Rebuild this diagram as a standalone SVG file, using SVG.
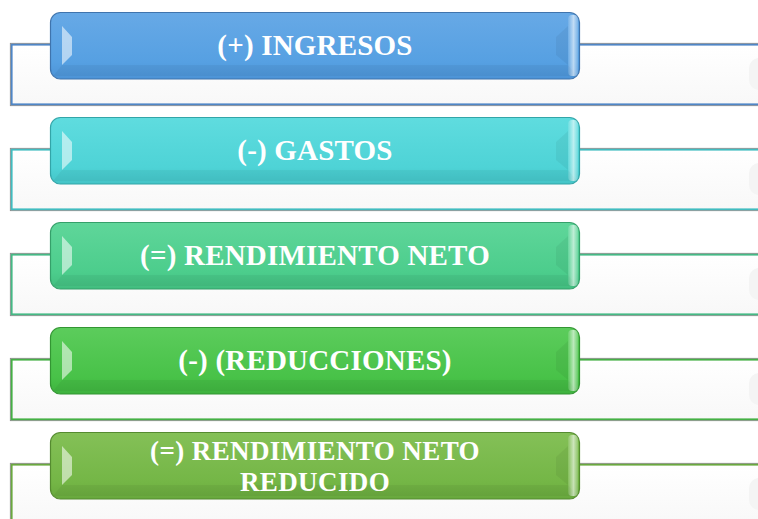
<svg xmlns="http://www.w3.org/2000/svg" width="758" height="519" viewBox="0 0 758 519">
<defs>
  <linearGradient id="panel" x1="0" y1="0" x2="0" y2="1">
    <stop offset="0" stop-color="#ffffff"/>
    <stop offset="1" stop-color="#f8f8f8"/>
  </linearGradient>
  <linearGradient id="g1" x1="0" y1="0" x2="0" y2="1">
    <stop offset="0" stop-color="#67a9e6"/>
    <stop offset="0.75" stop-color="#56a0e2"/>
    <stop offset="1" stop-color="#4c93d6"/>
  </linearGradient>
  <linearGradient id="g2" x1="0" y1="0" x2="0" y2="1">
    <stop offset="0" stop-color="#5fdcdf"/>
    <stop offset="0.75" stop-color="#4ed3d6"/>
    <stop offset="1" stop-color="#44c4c7"/>
  </linearGradient>
  <linearGradient id="g3" x1="0" y1="0" x2="0" y2="1">
    <stop offset="0" stop-color="#5fd69a"/>
    <stop offset="0.75" stop-color="#4ccd8c"/>
    <stop offset="1" stop-color="#42bd7f"/>
  </linearGradient>
  <linearGradient id="g4" x1="0" y1="0" x2="0" y2="1">
    <stop offset="0" stop-color="#5ccc5c"/>
    <stop offset="0.75" stop-color="#48c248"/>
    <stop offset="1" stop-color="#3eb23e"/>
  </linearGradient>
  <linearGradient id="g5" x1="0" y1="0" x2="0" y2="1">
    <stop offset="0" stop-color="#84c057"/>
    <stop offset="0.75" stop-color="#74b646"/>
    <stop offset="1" stop-color="#68a83d"/>
  </linearGradient>
  <linearGradient id="hl" x1="0" y1="0" x2="1" y2="0">
    <stop offset="0" stop-color="#ffffff" stop-opacity="0.1"/>
    <stop offset="0.55" stop-color="#ffffff" stop-opacity="0.6"/>
    <stop offset="1" stop-color="#ffffff" stop-opacity="0.15"/>
  </linearGradient>
</defs>
<style>
  .panel { fill: url(#panel); stroke-width: 2.2; }
  .edge { fill: none; stroke: #8a8a8a; stroke-width: 0.8; }
  .box { stroke-width: 1.2; }
  .shade { fill: #000000; fill-opacity: 0.045; }
  .lhl { fill: #ffffff; fill-opacity: 0.55; }
  .rdk { fill: #000000; fill-opacity: 0.05; }
  .rhl { fill: url(#hl); }
  .lbl { font-family: "Liberation Serif", "Times New Roman", serif; font-weight: bold; font-size: 29px; fill: #ffffff; text-anchor: middle; letter-spacing: 0.2px; }
  .lbl2 { font-size: 27px; letter-spacing: 0.4px; }
  .ghost { fill: #f4f4f4; }
</style>

<g id="connectors">
  <rect class="panel" x="11.5" y="44.5" width="770" height="60" stroke="#4f86c6"/>
  <rect class="edge" x="10.3" y="43.3" width="772" height="62.4"/>
  <rect class="ghost" x="749" y="58" width="20" height="32" rx="10"/>

  <rect class="panel" x="11.5" y="149.5" width="770" height="60" stroke="#41bcc0"/>
  <rect class="edge" x="10.3" y="148.3" width="772" height="62.4"/>
  <rect class="ghost" x="749" y="163" width="20" height="32" rx="10"/>

  <rect class="panel" x="11.5" y="254.5" width="770" height="60" stroke="#45b985"/>
  <rect class="edge" x="10.3" y="253.3" width="772" height="62.4"/>
  <rect class="ghost" x="749" y="268" width="20" height="32" rx="10"/>

  <rect class="panel" x="11.5" y="359.5" width="770" height="60" stroke="#45b045"/>
  <rect class="edge" x="10.3" y="358.3" width="772" height="62.4"/>
  <rect class="ghost" x="749" y="373" width="20" height="32" rx="10"/>

  <rect class="panel" x="11.5" y="464.5" width="770" height="60" stroke="#6aa83f"/>
  <rect class="edge" x="10.3" y="463.3" width="772" height="62.4"/>
  <rect class="ghost" x="749" y="478" width="20" height="32" rx="10"/>
</g>

<g id="node-ingresos">
  <rect class="box" x="50.5" y="12.5" width="529" height="66.5" rx="10" fill="url(#g1)" stroke="#3f74ad"/>
  <polygon class="shade" points="62,65 568,65 577,76 53,76"/>
  <polygon class="lhl" points="62,26 72,37 72,55 62,65"/>
  <polygon class="rdk" points="556,37 568,26 568,65 556,55"/>
  <rect class="rhl" x="568" y="15" width="10" height="61" rx="4"/>
  <text class="lbl" x="315" y="54.5">(+) INGRESOS</text>
</g>

<g id="node-gastos">
  <rect class="box" x="50.5" y="117.5" width="529" height="66.5" rx="10" fill="url(#g2)" stroke="#33a5a8"/>
  <polygon class="shade" points="62,170 568,170 577,181 53,181"/>
  <polygon class="lhl" points="62,131 72,142 72,160 62,170"/>
  <polygon class="rdk" points="556,142 568,131 568,170 556,160"/>
  <rect class="rhl" x="568" y="120" width="10" height="61" rx="4"/>
  <text class="lbl" x="315" y="159.5">(-) GASTOS</text>
</g>

<g id="node-rendimiento-neto">
  <rect class="box" x="50.5" y="222.5" width="529" height="66.5" rx="10" fill="url(#g3)" stroke="#35a06a"/>
  <polygon class="shade" points="62,275 568,275 577,286 53,286"/>
  <polygon class="lhl" points="62,236 72,247 72,265 62,275"/>
  <polygon class="rdk" points="556,247 568,236 568,275 556,265"/>
  <rect class="rhl" x="568" y="225" width="10" height="61" rx="4"/>
  <text class="lbl" x="315" y="264.5">(=) RENDIMIENTO NETO</text>
</g>

<g id="node-reducciones">
  <rect class="box" x="50.5" y="327.5" width="529" height="66.5" rx="10" fill="url(#g4)" stroke="#339633"/>
  <polygon class="shade" points="62,380 568,380 577,391 53,391"/>
  <polygon class="lhl" points="62,341 72,352 72,370 62,380"/>
  <polygon class="rdk" points="556,352 568,341 568,380 556,370"/>
  <rect class="rhl" x="568" y="330" width="10" height="61" rx="4"/>
  <text class="lbl" x="315" y="369.5">(-) (REDUCCIONES)</text>
</g>

<g id="node-rendimiento-neto-reducido">
  <rect class="box" x="50.5" y="432.5" width="529" height="66.5" rx="10" fill="url(#g5)" stroke="#558b30"/>
  <polygon class="shade" points="62,485 568,485 577,496 53,496"/>
  <polygon class="lhl" points="62,446 72,457 72,475 62,485"/>
  <polygon class="rdk" points="556,457 568,446 568,485 556,475"/>
  <rect class="rhl" x="568" y="435" width="10" height="61" rx="4"/>
  <text class="lbl lbl2" x="315" y="459.5">(=) RENDIMIENTO NETO</text>
  <text class="lbl lbl2" x="315" y="490.5">REDUCIDO</text>
</g>
</svg>
